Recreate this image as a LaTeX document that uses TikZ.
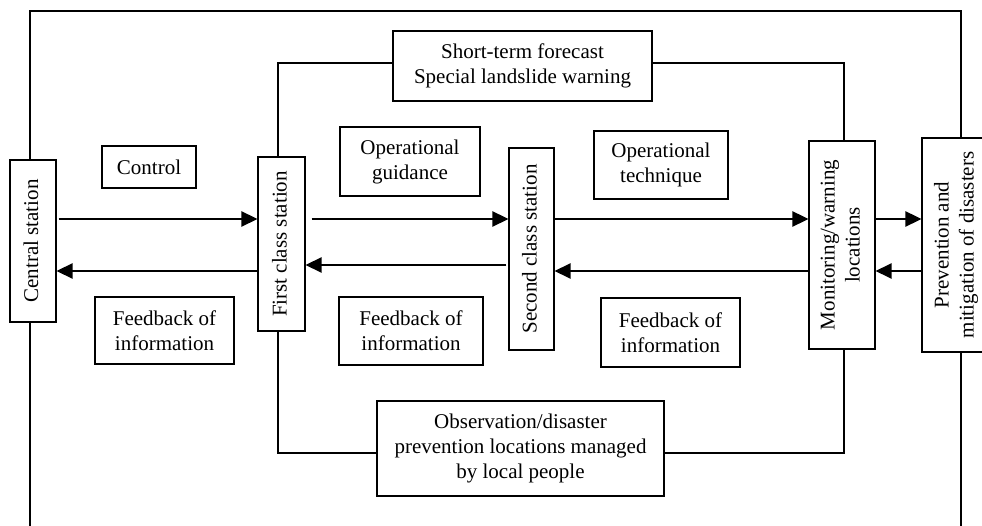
\documentclass[tikz,border=0pt]{standalone}
\usepackage{fontspec}
\setmainfont{Liberation Serif}
\usetikzlibrary{arrows.meta,calc}
\tikzset{
  box/.style={draw, line width=1.1pt, inner sep=0pt, align=center, font=\fontsize{21}{25}\selectfont},
  arr/.style={line width=2.6pt, -{Triangle[length=16pt,width=15pt]}},
  conn/.style={line width=1.1pt}
}
\newcommand{\vtext}[1]{\rotatebox{90}{\begin{tabular}{@{}c@{}}#1\end{tabular}}}
\begin{document}
\begin{tikzpicture}[x=1pt,y=-1pt]
\useasboundingbox (0,0) rectangle (982,526);
% nodes
\node[box, minimum width=46pt, minimum height=162pt] (cs) at (33,241) {\vtext{Central station}};
\node[box, minimum width=94pt, minimum height=42pt] (ctrl) at (149,167) {Control};
\node[box, minimum width=139pt, minimum height=67pt] (fb1) at (164.5,330.5) {Feedback of\\information};
\node[box, minimum width=47pt, minimum height=174pt] (fc) at (281.5,244) {\vtext{First class station}};
\node[box, minimum width=259pt, minimum height=70pt] (st) at (522.5,66) {Short-term forecast\\Special landslide warning};
\node[box, minimum width=140pt, minimum height=69pt] (og) at (410,161.5) {Operational\\guidance};
\node[box, minimum width=144pt, minimum height=68pt] (fb2) at (411,331) {Feedback of\\information};
\node[box, minimum width=45pt, minimum height=202pt] (sc) at (531.5,249) {\vtext{Second class station}};
\node[box, minimum width=134pt, minimum height=68pt] (ot) at (661,165) {Operational\\technique};
\node[box, minimum width=139pt, minimum height=69pt] (fb3) at (670.5,332.5) {Feedback of\\information};
\node[box, minimum width=66pt, minimum height=208pt] (mw) at (842,245) {\vtext{Monitoring/warning\\locations}};
\node[box, minimum width=68pt, minimum height=214pt] (pm) at (956,245) {\vtext{Prevention and\\mitigation of disasters}};
\node[box, minimum width=287pt, minimum height=95pt] (obs) at (520.5,448.5) {Observation/disaster\\prevention locations managed\\by local people};
% helper coordinates
\coordinate (ytop) at (0,219);
\coordinate (ybot) at (0,271);
\coordinate (ymid) at (0,265);
\coordinate (oL) at (30,11);
\coordinate (oR) at (961,11);
\coordinate (oLb) at (30,530);
\coordinate (oRb) at (961,530);
\coordinate (iL) at (278,63);
\coordinate (iR) at (844,63);
\coordinate (bL) at (278,453);
\coordinate (bR) at (844,453);
% frame lines
\draw[conn] (cs.north -| oL) -- (oL) -- (oR) -- (pm.north -| oR);
\draw[conn] (cs.south -| oL) -- (oLb);
\draw[conn] (pm.south -| oR) -- (oRb);
\draw[conn] (fc.north -| iL) -- (iL) -- (st.west |- iL);
\draw[conn] (st.east |- iR) -- (iR) -- (mw.north -| iR);
\draw[conn] (fc.south -| bL) -- (bL) -- (obs.west |- bL);
\draw[conn] (obs.east |- bR) -- (bR) -- (mw.south -| bR);
% arrows forward
\draw[arr, shorten <=2pt] (cs.east |- ytop) -- (fc.west |- ytop);
\draw[arr, shorten <=6pt] (fc.east |- ytop) -- (sc.west |- ytop);
\draw[arr] (sc.east |- ytop) -- (mw.west |- ytop);
\draw[arr] (mw.east |- ytop) -- (pm.west |- ytop);
% arrows back
\draw[arr] (fc.west |- ybot) -- (cs.east |- ybot);
\draw[arr, shorten <=2pt] (sc.west |- ymid) -- (fc.east |- ymid);
\draw[arr] (mw.west |- ybot) -- (sc.east |- ybot);
\draw[arr] (pm.west |- ybot) -- (mw.east |- ybot);
\end{tikzpicture}
\end{document}
